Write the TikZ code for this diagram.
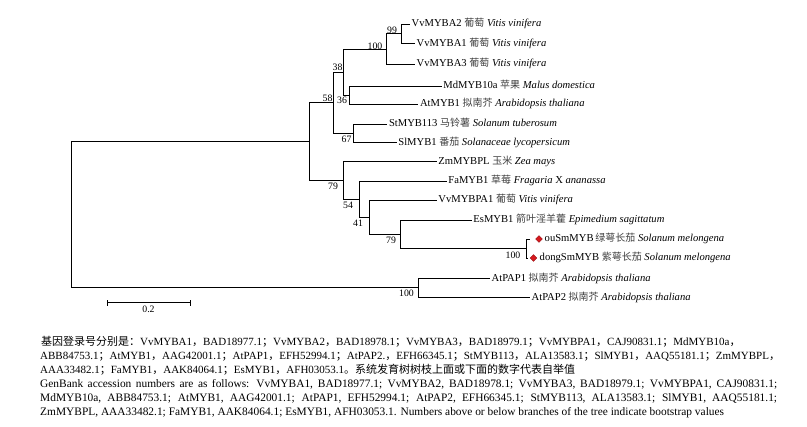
\documentclass[tikz,border=0pt]{standalone}
\usepackage{fontspec}
\setmainfont{Liberation Serif}
\newfontfamily\cjk{Noto Sans CJK SC}
\usetikzlibrary{shapes.geometric}
\XeTeXlinebreaklocale "zh"
\XeTeXlinebreakskip=0pt plus 1pt
\definecolor{gemred}{RGB}{215,25,30}
\newcommand\zh[1]{{\cjk\fontsize{10}{12}\selectfont\color{black!75}#1}}
\newcommand\Dou{{\cjk ，}}
\newcommand\Fen{{\cjk ；}}
\tikzset{
  br/.style={line width=0.9pt, line join=miter},
  leaf/.style={anchor=west, inner sep=1.5pt, text height=7.8pt, text depth=2.3pt, font=\fontsize{10.6}{12}\selectfont},
  bs/.style={inner sep=0pt, font=\fontsize{9.8}{11}\selectfont},
  gem/.style={diamond, fill=gemred, draw=gemred!70!black, line width=0.3pt, inner sep=0pt, minimum size=7pt},
  captext/.style={anchor=base west, inner sep=0pt, font=\fontsize{11}{13}\selectfont},
  capen/.style={anchor=base west, inner sep=0pt, font=\fontsize{11.4}{13}\selectfont}
}
\begin{document}
\begin{tikzpicture}[x=1pt,y=-1pt]
\useasboundingbox[fill=white] (0,0) rectangle (807,427);
% internal nodes
\coordinate (root) at (71,214.3);
\coordinate (nA) at (309.3,141.3);
\coordinate (n58) at (333.3,102.3);
\coordinate (n38) at (343.3,72.3);
\coordinate (n100a) at (386.7,49);
\coordinate (n99) at (401.7,33.7);
\coordinate (n36) at (349.3,95);
\coordinate (n67) at (353.3,133.2);
\coordinate (n79) at (343.3,180.3);
\coordinate (n54) at (359.3,199);
\coordinate (n41) at (369.3,217);
\coordinate (n79b) at (400,234.2);
\coordinate (n100b) at (526.7,248.5);
\coordinate (nPAP) at (418.3,287.8);
% leaves
\node[leaf] (lA2) at (410,24) {VvMYBA2 \zh{葡萄} \textit{Vitis vinifera}};
\node[leaf] (lA1) at (415,43.3) {VvMYBA1 \zh{葡萄} \textit{Vitis vinifera}};
\node[leaf] (lA3) at (415,64) {VvMYBA3 \zh{葡萄} \textit{Vitis vinifera}};
\node[leaf] (lMd) at (441.7,86) {MdMYB10a \zh{苹果} \textit{Malus domestica}};
\node[leaf] (lAt) at (418.3,104) {AtMYB1 \zh{拟南芥} \textit{Arabidopsis thaliana}};
\node[leaf] (lSt) at (387.3,124) {StMYB113 \zh{马铃薯} \textit{Solanum tuberosum}};
\node[leaf] (lSl) at (396.7,142.5) {SlMYB1 \zh{番茄} \textit{Solanaceae lycopersicum}};
\node[leaf] (lZm) at (436.7,161.7) {ZmMYBPL \zh{玉米} \textit{Zea mays}};
\node[leaf] (lFa) at (446.7,181) {FaMYB1 \zh{草莓} \textit{Fragaria} X \textit{ananassa}};
\node[leaf] (lPA) at (436.7,200) {VvMYBPA1 \zh{葡萄} \textit{Vitis vinifera}};
\node[leaf] (lEs) at (471.7,220) {EsMYB1 \zh{箭叶淫羊藿} \textit{Epimedium sagittatum}};
\coordinate (ouEnd) at (530,239);
\coordinate (dongEnd) at (527.5,258.5);
\node[gem] (gOu) at (539,239) {};
\node[gem] (gDong) at (533.5,258) {};
\node[leaf] (lOu) at (543,239) {ouSmMYB\,\zh{绿萼长茄} \textit{Solanum melongena}};
\node[leaf] (lDong) at (538,258) {dongSmMYB \zh{紫萼长茄} \textit{Solanum melongena}};
\node[leaf] (lP1) at (490,278.3) {AtPAP1 \zh{拟南芥} \textit{Arabidopsis thaliana}};
\node[leaf] (lP2) at (530,297.3) {AtPAP2 \zh{拟南芥} \textit{Arabidopsis thaliana}};
% branches
\draw[br] (root) |- (nA);
\draw[br] (root) |- (nPAP);
\draw[br] (nA) |- (n58);
\draw[br] (nA) |- (n79);
\draw[br] (n58) |- (n38);
\draw[br] (n58) |- (n67);
\draw[br] (n38) |- (n100a);
\draw[br] (n38) |- (n36);
\draw[br] (n100a) |- (n99);
\draw[br] (n100a) |- (lA3.west);
\draw[br] (n99) |- (lA2.west);
\draw[br] (n99) |- (lA1.west);
\draw[br] (n36) |- (lMd.west);
\draw[br] (n36) |- (lAt.west);
\draw[br] (n67) |- (lSt.west);
\draw[br] (n67) |- (lSl.west);
\draw[br] (n79) |- (lZm.west);
\draw[br] (n79) |- (n54);
\draw[br] (n54) |- (lFa.west);
\draw[br] (n54) |- (n41);
\draw[br] (n41) |- (lPA.west);
\draw[br] (n41) |- (n79b);
\draw[br] (n79b) |- (lEs.west);
\draw[br] (n79b) |- (n100b);
\draw[br] (n100b) |- (ouEnd);
\draw[br] (n100b) |- (dongEnd);
\draw[br] (nPAP) |- (lP1.west);
\draw[br] (nPAP) |- (lP2.west);
% bootstrap values
\node[bs] (b99) at (392,30) {99};
\node[bs] (b100a) at (375,46) {100};
\node[bs] (b38) at (337.5,67.5) {38};
\node[bs] (b58) at (327.5,98.5) {58};
\node[bs] (b36) at (342,100) {36};
\node[bs] (b67) at (346.5,139) {67};
\node[bs] (b79) at (333,186) {79};
\node[bs] (b54) at (348,205) {54};
\node[bs] (b41) at (358,223) {41};
\node[bs] (b79b) at (391,240) {79};
\node[bs] (b100b) at (513,255) {100};
\node[bs] (b100c) at (406.5,293) {100};
% scale bar
\coordinate (sbL) at (107.3,302.7);
\coordinate (sbR) at (190,302.7);
\draw[br] (sbL) -- (sbR);
\draw[br] ([yshift=-3pt]sbL) -- ([yshift=3pt]sbL);
\draw[br] ([yshift=-3pt]sbR) -- ([yshift=3pt]sbR);
\node[bs] (sbT) at (148.5,309.5) {0.2};
% caption
\node[captext] (c1) at (41,345.5) {\makebox[722pt][s]{{\cjk 基因登录号分别是：}VvMYBA1\Dou BAD18977.1\Fen VvMYBA2\Dou BAD18978.1\Fen VvMYBA3\Dou BAD18979.1\Fen VvMYBPA1\Dou CAJ90831.1\Fen MdMYB10a\Dou}};
\node[captext] (c2) at (40,359.5) {\makebox[720pt][s]{ABB84753.1\Fen AtMYB1\Dou AAG42001.1\Fen AtPAP1\Dou EFH52994.1\Fen AtPAP2.\Dou EFH66345.1\Fen StMYB113\Dou ALA13583.1\Fen SlMYB1\Dou AAQ55181.1\Fen ZmMYBPL\Dou}};
\node[captext] (c3) at (40,373.5) {\makebox[557pt][s]{AAA33482.1\Fen FaMYB1\Dou AAK84064.1\Fen EsMYB1\Dou AFH03053.1{\cjk 。系统发育树树枝上面或下面的数字代表自举值}}};
\node[capen] (c4) at (40,388) {\makebox[737pt][s]{GenBank accession numbers are as follows: VvMYBA1, BAD18977.1; VvMYBA2, BAD18978.1; VvMYBA3, BAD18979.1; VvMYBPA1, CAJ90831.1;}};
\node[capen] (c5) at (40,402) {\makebox[737pt][s]{MdMYB10a, ABB84753.1; AtMYB1, AAG42001.1; AtPAP1, EFH52994.1; AtPAP2, EFH66345.1; StMYB113, ALA13583.1; SlMYB1, AAQ55181.1;}};
\node[capen] (c6) at (40,415.5) {ZmMYBPL, AAA33482.1; FaMYB1, AAK84064.1; EsMYB1, AFH03053.1. Numbers above or below branches of the tree indicate bootstrap values};
\end{tikzpicture}
\end{document}
